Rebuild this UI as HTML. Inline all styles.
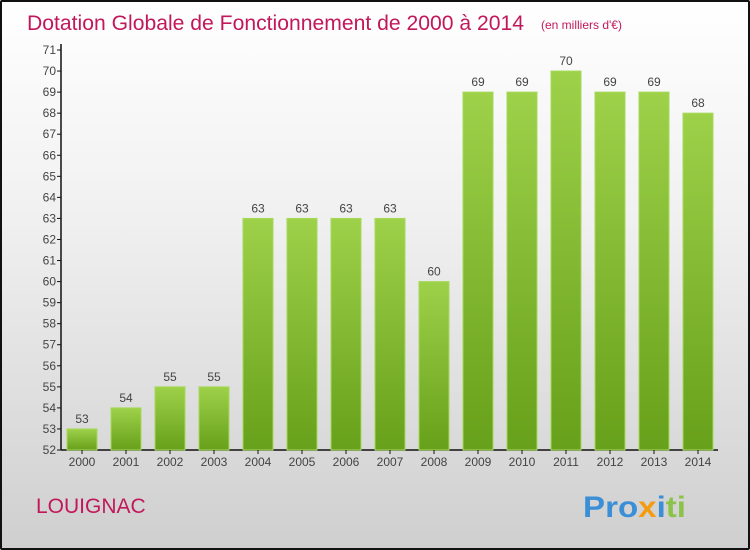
<!DOCTYPE html>
<html><head><meta charset="utf-8"><style>
body{margin:0}
#c{position:relative;width:750px;height:550px;box-sizing:border-box;border:2px solid #111;border-radius:2px;background:linear-gradient(#fff 0%,#f0f0f0 40%,#cfcfcf 100%);font-family:"Liberation Sans",sans-serif;overflow:hidden}
</style></head><body>
<div id="c">
<svg width="750" height="550" style="position:absolute;left:-2px;top:-2px">
<defs><linearGradient id="g" x1="0" y1="0" x2="0" y2="1"><stop offset="0" stop-color="#9ed14a"/><stop offset="1" stop-color="#67a01a"/></linearGradient></defs>
<text x="27" y="30" font-size="21" fill="#c2185b" textLength="497" lengthAdjust="spacingAndGlyphs">Dotation Globale de Fonctionnement de 2000 à 2014</text>
<text x="541" y="29" font-size="12" fill="#c2185b">(en milliers d'€)</text>
<g id="plot"></g>
<text x="36" y="513" font-size="21" fill="#c2185b">LOUIGNAC</text>
<text x="583" y="517" font-size="30" font-weight="bold" textLength="103" lengthAdjust="spacingAndGlyphs"><tspan fill="#3a8fd6">Pro</tspan><tspan fill="#f39c12">x</tspan><tspan fill="#3a8fd6">i</tspan><tspan fill="#8bc34a">ti</tspan></text>
</svg>
</div>
<script>
const years=["2000","2001","2002","2003","2004","2005","2006","2007","2008","2009","2010","2011","2012","2013","2014"];
const values=[53,54,55,55,63,63,63,63,60,69,69,70,69,69,68];
const yTicks=[52,53,54,55,56,57,58,59,60,61,62,63,64,65,66,67,68,69,70,71];
const NS="http://www.w3.org/2000/svg";
const g=document.getElementById('plot');
const y0=450,y1=50,vmin=52,vmax=71;
const ys=v=>y0-(v-vmin)/(vmax-vmin)*(y0-y1);
const xs=i=>67+i*44;
function mk(t,a){const e=document.createElementNS(NS,t);for(const k in a)e.setAttribute(k,a[k]);g.appendChild(e);return e;}
let ax=mk('line',{x1:61,y1:y0,x2:61,y2:y1-6,stroke:'#111','stroke-width':1.5});


let xa=mk('line',{x1:61,y1:y0,x2:718,y2:y0,stroke:'#111','stroke-width':1.5});


yTicks.forEach(v=>{const y=ys(v);
 mk('line',{x1:57,y1:y,x2:61,y2:y,stroke:'#111'});
 const t=mk('text',{x:56,y:y+4,'text-anchor':'end','font-size':12,fill:'#444'});t.textContent=v;
 
 
});
years.forEach((yr,i)=>{const x=xs(i),v=values[i],y=ys(v);
 const r=mk('rect',{x:x,y:y,width:30,height:y0-y,fill:'url(#g)',stroke:'#a6d95a','stroke-width':1});
 
 
 const l=mk('text',{x:x+15,y:y-6,'text-anchor':'middle','font-size':12,fill:'#444'});l.textContent=v;
 
 
 mk('line',{x1:x+15,y1:y0,x2:x+15,y2:y0+4,stroke:'#111'});
 const t=mk('text',{x:x+15,y:y0+16,'text-anchor':'middle','font-size':12,fill:'#444'});t.textContent=yr;
 
 
});
</script>
</body></html>
